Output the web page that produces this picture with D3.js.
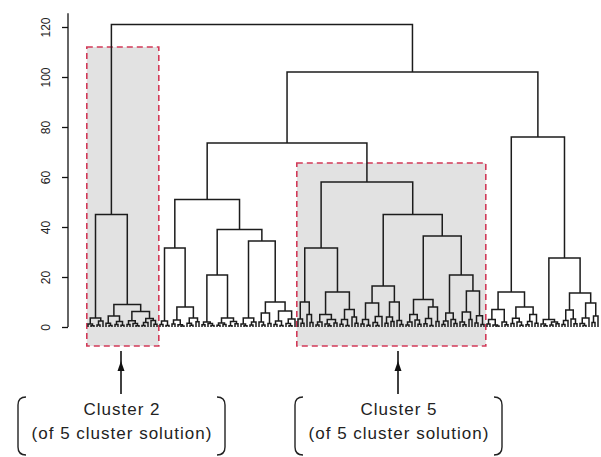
<!DOCTYPE html>
<html lang="en">
<head>
    <meta charset="UTF-8">
    <title>Dendrogram</title>
    <style>
        body {
            margin: 0;
            background: #fff;
            font-family: 'Liberation Sans', Arial, Helvetica, sans-serif;
        }

        .link {
            fill: none;
            stroke: #1c1c1c;
            stroke-width: 1.5;
        }

        .cluster-box {
            fill: #e2e2e2;
            stroke: #d23a58;
            stroke-width: 1.6;
            stroke-dasharray: 6, 4;
        }

        .y.axis path,
        .y.axis line {
            stroke: #111;
            stroke-width: 1.3;
        }

        .y.axis text {
            font-size: 12px;
            fill: #222;
        }

        .note text {
            font-size: 17px;
            letter-spacing: 1px;
            fill: #222;
        }
    </style>
</head>
<body>
    <div id="plot"></div>

    <script src="https://d3js.org/d3.v7.min.js"></script>
    <script>
        // merge nodes are [height, left, right], a 0 is a single leaf
        const cluster2 = [45,
            [3.6, [1.2, 0, [0.5, 0, 0]], [2.4, [0.8, 0, 0], 0]],
            [9,
                [4.4, [1.5, 0, [0.6, 0, 0]], [2.2, [1, 0, 0], [0.7, 0, 0]]],
                [6.2, [2.5, [1, 0, 0], [1.4, 0, [0.5, 0, 0]]], [3.4, [1.8, [0.6, 0, 0], 0], [2.6, 0, [1.1, 0, 0]]]]]];

        const middleGroup = [51,
            [31.6,
                [2.4, [1, 0, 0], [0.6, 0, 0]],
                [8, [2.8, [1.2, 0, 0], [0.9, 0, [0.4, 0, 0]]], [3.6, [1.5, 0, [0.7, 0, 0]], [2.1, 0, 0]]]],
            [39,
                [20.8,
                    [2, [0.9, 0, 0], [1.4, 0, [0.6, 0, 0]]],
                    [3.6, [1.6, [0.7, 0, 0], [1, 0, 0]], [2.2, [0.5, 0, 0], [1.3, 0, 0]]]],
                [34.4,
                    [3.6, [1.2, 0, [0.5, 0, 0]], [2, [0.8, 0, 0], 0]],
                    [10, [5.6, [2, 0, [0.8, 0, 0]], [1.4, 0, 0]], [6.4, [2.4, [1, 0, 0], [0.6, 0, 0]], [3.2, [1.4, 0, [0.5, 0, 0]], 0]]]]]];

        const cluster5 = [58,
            [31.6,
                [10, [3.2, 0, [1.5, 0, 0]], [5, 0, [1.8, 0, 0]]],
                [14,
                    [5, [2, [0.8, 0, 0], 0], [3, [1.2, 0, [0.5, 0, 0]], [1.6, 0, 0]]],
                    [7, [3, [1.1, 0, 0], [0.6, 0, 0]], [4, 0, [1.5, 0, 0]]]]],
            [45,
                [16.4,
                    [9.6, [3, [1.2, 0, 0], [0.7, 0, 0]], [4.2, [1.8, 0, [0.6, 0, 0]], 0]],
                    [10, [4, [1.5, 0, 0], [2.2, 0, 0]], [2.6, 0, [1, 0, 0]]]],
                [36.4,
                    [11,
                        [5, [2, [0.8, 0, 0], 0], [2.8, 0, [1.1, 0, 0]]],
                        [8, [3.4, [1.3, 0, 0], [0.6, 0, 0]], [2.2, 0, 0]]],
                    [20.8,
                        [5.6, [2.4, [1, 0, 0], 0], [3, 0, [1.4, 0, 0]]],
                        [14.4, [6, [2, 0, [0.9, 0, 0]], [3, 0, 0]], [4.5, [1.6, 0, 0], [1, 0, 0]]]]]]];

        const rightGroup = [76,
            [14,
                [7, [3, [1.2, 0, 0], [0.8, 0, [0.4, 0, 0]]], [2, 0, [0.9, 0, 0]]],
                [8, [3.5, [1.4, 0, 0], [2, 0, [0.7, 0, 0]]], [5, [2.2, [0.9, 0, 0], 0], [1.5, 0, 0]]]],
            [27.6,
                [3, [1.2, 0, [0.5, 0, 0]], [2, [0.8, 0, 0], [1.3, 0, 0]]],
                [13.6,
                    [6.8, [2.6, [1, 0, 0], 0], [3.2, 0, [1.3, 0, 0]]],
                    [9.6, [3.6, [1.4, 0, [0.6, 0, 0]], 0], [4.4, [1.8, 0, 0], 0]]]]];

        const topHeights = [121, 102, 73.6];
        const yTicks = [0, 20, 40, 60, 80, 100, 120];

        // highlighted clusters: leaf range, box top height, label
        const clusterNames = ["Cluster 2", "Cluster 5"];
        const clusterLeafFrom = [0, 70];
        const clusterLeafTo = [23, 132];
        const clusterTop = [112, 65.6];
        const subtitle = "(of 5 cluster solution)";

        const tree = [topHeights[0], cluster2,
            [topHeights[1], [topHeights[2], middleGroup, cluster5], rightGroup]];

        const width = 601;
        const height = 457;

        const root = d3.hierarchy(tree, d => Array.isArray(d) ? d.slice(1) : null);
        const leaves = root.leaves();

        const xScale = d3.scaleLinear()
            .domain([0, leaves.length - 1])
            .range([88, 598]);

        const yScale = d3.scaleLinear()
            .domain([0, 120])
            .range([327, 27]);

        const nodeHeight = d => Array.isArray(d.data) ? d.data[0] : 0;

        leaves.forEach((leaf, i) => leaf.x = xScale(i));
        root.eachAfter(d => {
            if (d.children) {
                d.x = d3.mean(d.children, c => c.x);
            }
        });

        const svg = d3.select('#plot')
            .append('svg')
            .attr('width', width)
            .attr('height', height);

        // shaded cluster boxes behind the tree
        const bottomY = 346;
        const boxLeft = i => xScale(clusterLeafFrom[i] - 0.4);
        const boxRight = i => xScale(clusterLeafTo[i] + 0.6);
        clusterNames.forEach((name, i) => {
            svg.append('rect')
                .attr('class', 'cluster-box')
                .attr('x', boxLeft(i))
                .attr('y', yScale(clusterTop[i]))
                .attr('width', boxRight(i) - boxLeft(i))
                .attr('height', bottomY - yScale(clusterTop[i]));
        });

        // dendrogram links: horizontal at merge height, verticals down to children
        const links = svg.append('g');
        root.descendants().filter(d => d.children).forEach(d => {
            const y = yScale(nodeHeight(d));
            const [a, b] = d.children;
            const path = d3.path();
            path.moveTo(a.x, yScale(nodeHeight(a)));
            path.lineTo(a.x, y);
            path.lineTo(b.x, y);
            path.lineTo(b.x, yScale(nodeHeight(b)));
            links.append('path')
                .attr('class', 'link')
                .attr('d', path.toString());
        });

        // y axis, R style with labels turned along the axis
        const yAxis = d3.axisLeft(yScale)
            .tickValues(yTicks)
            .tickSize(6)
            .tickSizeOuter(0);

        const axisG = svg.append('g')
            .attr('class', 'y axis')
            .attr('transform', 'translate(68, 0)')
            .call(yAxis);

        axisG.select('.domain')
            .attr('d', `M0,${yScale(0)}V${yScale(125.5)}`);

        axisG.selectAll('text')
            .attr('x', 0)
            .attr('dy', 0)
            .attr('transform', 'translate(-18, 0) rotate(-90)')
            .style('text-anchor', 'middle');

        // notes under the boxes with arrows pointing up
        clusterNames.forEach((name, i) => {
            const g = svg.append('g').attr('class', 'note');
            const ax = i === 0 ? 121 : 398;

            g.append('line')
                .attr('x1', ax).attr('x2', ax)
                .attr('y1', 394).attr('y2', 351)
                .attr('stroke', '#111')
                .attr('stroke-width', 1.6);
            g.append('path')
                .attr('d', `M${ax},361L${ax - 3.5},371L${ax + 3.5},371Z`)
                .attr('fill', '#111');

            const bx0 = ax - 103;
            const bx1 = ax + 104;
            const by0 = 397;
            const by1 = 455;
            const r = 8;
            g.append('path')
                .attr('d', `M${bx0 + r},${by0}Q${bx0},${by0} ${bx0},${by0 + r}V${by1 - r}Q${bx0},${by1} ${bx0 + r},${by1}`
                    + `M${bx1 - r},${by0}Q${bx1},${by0} ${bx1},${by0 + r}V${by1 - r}Q${bx1},${by1} ${bx1 - r},${by1}`)
                .attr('fill', 'none')
                .attr('stroke', '#222')
                .attr('stroke-width', 1.4);

            g.append('text')
                .attr('x', ax + 1)
                .attr('y', 415)
                .attr('text-anchor', 'middle')
                .text(name);
            g.append('text')
                .attr('x', ax + 1)
                .attr('y', 439)
                .attr('text-anchor', 'middle')
                .text(subtitle);
        });
    </script>
</body>
</html>
